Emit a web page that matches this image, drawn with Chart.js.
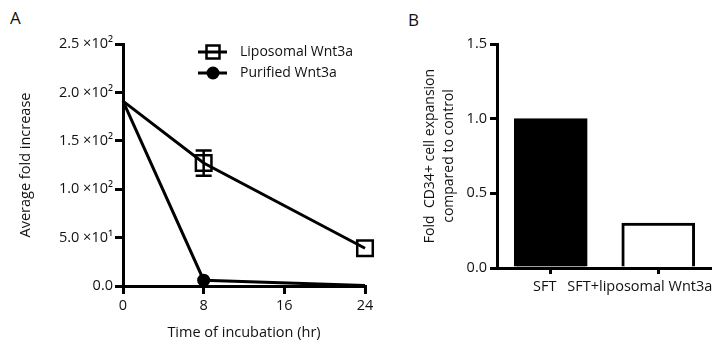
<!DOCTYPE html>
<html>
<head>
<meta charset="utf-8">
<script src="https://cdn.jsdelivr.net/npm/chart.js@4/dist/chart.umd.min.js"></script>
<style>
  html, body { margin:0; padding:0; background:#fff; }
  body { width:712px; height:343px; position:relative; overflow:hidden; font-family: "Open Sans", Lato, sans-serif; }
  #wa { position:absolute; left:0; top:0; width:390px; height:343px; }
  #wb { position:absolute; left:390px; top:0; width:322px; height:343px; }
  .lab { position:absolute; font-size:17px; color:#111; }
</style>
</head>
<body>
<div class="lab" style="left:10px;top:6px;">A</div>
<div class="lab" style="left:408px;top:8px;">B</div>
<div id="wa"><canvas id="ca" width="390" height="343"></canvas></div>
<div id="wb"><canvas id="cb" width="322" height="343"></canvas></div>
<script>
// ---- Panel A data ----
const timeHours = [0, 8, 24];
const liposomalWnt3a = [191, 127, 39];
const liposomalErr = [0, 13, 0];
const purifiedWnt3a = [191, 6, 0.5];
const yTicksA = [0, 50, 100, 150, 200, 250];
const yTickLabelsA = ['0.0', '5.0 \u00d710\u00b9', '1.0 \u00d710\u00b2', '1.5 \u00d710\u00b2', '2.0 \u00d710\u00b2', '2.5 \u00d710\u00b2'];
const xTicksA = [0, 8, 16, 24];

// ---- Panel B data ----
const categoriesB = ['SFT', 'SFT+liposomal Wnt3a'];
const foldExpansion = [1.0, 0.3];
const yTickLabelsB = ['0.0', '0.5', '1.0', '1.5'];

const FONT = '"Open Sans"';
const FS = 14.5;
Chart.defaults.font.family = FONT;
Chart.defaults.font.size = FS;
Chart.defaults.color = '#111';

const errorBarPlugin = {
  id: 'errorBars',
  afterDatasetsDraw(chart) {
    const ctx = chart.ctx;
    const ys = chart.scales.y, xs = chart.scales.x;
    chart.data.datasets.forEach((ds) => {
      if (!ds.errors) return;
      ds.data.forEach((pt, i) => {
        const e = ds.errors[i];
        if (!e) return;
        const x = xs.getPixelForValue(pt.x);
        const yTop = ys.getPixelForValue(pt.y + e);
        const yBot = ys.getPixelForValue(pt.y - e);
        ctx.save();
        ctx.strokeStyle = '#000';
        ctx.lineWidth = 2.5;
        ctx.beginPath();
        ctx.moveTo(x, yTop); ctx.lineTo(x, yBot);
        ctx.moveTo(x - 8, yTop); ctx.lineTo(x + 8, yTop);
        ctx.moveTo(x - 8, yBot); ctx.lineTo(x + 8, yBot);
        ctx.stroke();
        ctx.restore();
      });
    });
  }
};

const legendPlugin = {
  id: 'lineLegend',
  afterDraw(chart) {
    const ctx = chart.ctx;
    const x0 = 198, x1 = 227, xm = 213, tx = 240;
    const rows = [52, 73];
    chart.data.datasets.forEach((ds, i) => {
      const y = rows[i];
      ctx.save();
      ctx.strokeStyle = '#000';
      ctx.lineWidth = 3;
      ctx.beginPath(); ctx.moveTo(x0, y); ctx.lineTo(x1, y); ctx.stroke();
      ctx.lineWidth = 2.5;
      if (ds.pointStyle === 'rect') {
        ctx.strokeRect(xm - 6.5, y - 6.5, 13, 13);
      } else {
        ctx.fillStyle = '#000';
        ctx.beginPath(); ctx.arc(xm, y, 6.5, 0, Math.PI * 2); ctx.fill();
      }
      ctx.fillStyle = '#111';
      ctx.font = '14px ' + FONT;
      ctx.textBaseline = 'middle';
      ctx.textAlign = 'left';
      ctx.fillText(ds.label, tx, y);
      ctx.restore();
    });
  }
};

new Chart(document.getElementById('ca'), {
  type: 'line',
  data: {
    datasets: [
      {
        label: 'Liposomal Wnt3a',
        data: timeHours.map((t, i) => ({ x: t, y: liposomalWnt3a[i] })),
        errors: liposomalErr,
        borderColor: '#000', borderWidth: 3,
        pointStyle: 'rect', pointRadius: [0, 11, 11], pointBorderWidth: 2.5,
        pointBackgroundColor: 'rgba(0,0,0,0)', pointBorderColor: '#000',
        tension: 0, clip: false
      },
      {
        label: 'Purified Wnt3a',
        data: timeHours.map((t, i) => ({ x: t, y: purifiedWnt3a[i] })),
        borderColor: '#000', borderWidth: 3,
        pointStyle: 'circle', pointRadius: [0, 6.5, 0], pointBorderWidth: 0,
        pointBackgroundColor: '#000', pointBorderColor: '#000',
        tension: 0, clip: false
      }
    ]
  },
  options: {
    responsive: false, animation: false,
    layout: { padding: { top: 44, right: 25, bottom: 0, left: 0 } },
    plugins: { legend: { display: false }, tooltip: { enabled: false } },
    scales: {
      x: {
        type: 'linear', min: 0, max: 24,
        afterBuildTicks: (s) => { s.ticks = xTicksA.map(v => ({ value: v })); },
        afterFit: (s) => { s.height = 57; s.paddingLeft = 0; s.paddingRight = 0; },
        border: { color: '#000', width: 3 },
        grid: { drawOnChartArea: false, color: '#000', lineWidth: 3, tickLength: 8 },
        ticks: { padding: 3, color: '#111', font: { size: FS } },
        title: { display: true, text: 'Time of incubation (hr)', color: '#111', font: { size: FS }, padding: { bottom: 1 } }
      },
      y: {
        min: 0, max: 250,
        afterBuildTicks: (s) => { s.ticks = yTicksA.map(v => ({ value: v })); },
        afterFit: (s) => { s.width = 123; },
        border: { color: '#000', width: 3 },
        grid: { drawOnChartArea: false, color: '#000', lineWidth: 3, tickLength: 8 },
        ticks: { padding: 2, color: '#111', font: { size: FS },
          callback: (v) => yTickLabelsA[yTicksA.indexOf(v)] },
        title: { display: true, text: 'Average fold increase', color: '#111', font: { size: FS }, padding: { top: 17 } }
      }
    }
  },
  plugins: [errorBarPlugin, legendPlugin]
});

new Chart(document.getElementById('cb'), {
  type: 'bar',
  data: {
    labels: categoriesB,
    datasets: [{
      data: foldExpansion,
      backgroundColor: ['#000', '#fff'],
      borderColor: '#000',
      borderWidth: 3,
      borderSkipped: 'bottom',
      barThickness: 73
    }]
  },
  options: {
    responsive: false, animation: false,
    layout: { padding: { top: 44, right: -3, bottom: 0, left: 0 } },
    plugins: { legend: { display: false }, tooltip: { enabled: false } },
    scales: {
      x: {
        afterFit: (s) => { s.height = 75; s.paddingLeft = 0; s.paddingRight = 0; },
        border: { color: '#000', width: 3 },
        grid: { drawOnChartArea: false, offset: false, color: '#000', lineWidth: 3, tickLength: 6 },
        ticks: { padding: 4, labelOffset: -6, color: '#111', font: { size: FS }, maxRotation: 0, autoSkip: false,
          callback: (v, i) => i === categoriesB.length - 1 ? categoriesB[i] + '\u2007\u2007\u2007' : categoriesB[i] }
      },
      y: {
        min: 0, max: 1.5,
        ticks: { stepSize: 0.5, padding: 3, color: '#111', font: { size: FS },
          callback: (v) => yTickLabelsB[Math.round(v / 0.5)] },
        afterFit: (s) => { s.width = 107; },
        border: { color: '#000', width: 3 },
        grid: { drawOnChartArea: false, color: '#000', lineWidth: 3, tickLength: 7 },
        title: { display: true, text: ['Fold  CD34+ cell expansion', 'compared to control'], color: '#111',
          font: { size: 14, lineHeight: 1.35 }, padding: { top: 31 } }
      }
    }
  }
});
</script>
</body>
</html>
